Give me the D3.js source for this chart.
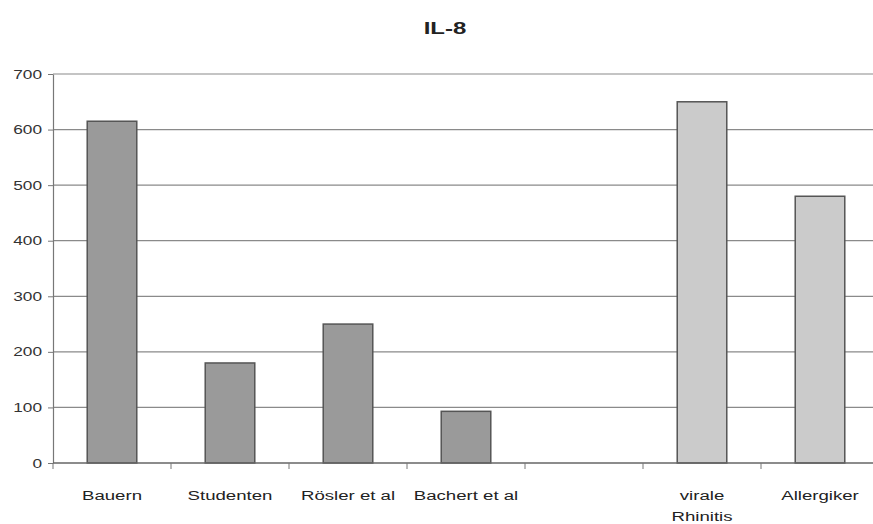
<!DOCTYPE html>
<html><head><meta charset="utf-8">
<script src="https://cdn.jsdelivr.net/npm/d3@7"></script>
<style>body{margin:0;background:#fff}svg{display:block}</style>
</head><body>
<svg id="c" width="873" height="524"></svg>
<script>
const categories = ["Bauern", "Studenten", "Rösler et al", "Bachert et al", "", "virale\nRhinitis", "Allergiker"];
const values = [615, 180, 250, 93, null, 650, 480];
const groups = ["dark", "dark", "dark", "dark", null, "light", "light"];
const yTicks = [0, 100, 200, 300, 400, 500, 600, 700];
const title = "IL-8";

(function() {
const svg = d3.select("#c");
const mLeft = 53, mTop = 74, mBottom = 463, bandW = 118;
const sx = 1.38; // horizontal stretch of the lettering in the reference
const x = d3.scaleBand().domain(d3.range(categories.length)).range([mLeft, mLeft + bandW * categories.length]).paddingInner(0.58).paddingOuter(0.29);
const y = d3.scaleLinear().domain([0, 700]).range([mBottom, mTop]);
const font = "Liberation Sans, Arial, sans-serif";

svg.append("text").attr("transform", `translate(445,34) scale(1.5,1)`).attr("text-anchor", "middle")
  .attr("font-family", font).attr("font-weight", "bold").attr("font-size", 16).attr("fill", "#222").text(title);

// gridlines
svg.append("g").selectAll("line").data(yTicks.filter(d => d > 0)).join("line")
  .attr("x1", mLeft).attr("x2", 873).attr("y1", d => y(d)).attr("y2", d => y(d))
  .attr("stroke", "#8a8a8a").attr("stroke-width", 1.2);

// bars
const fills = {dark: "#9a9a9a", light: "#cbcbcb"};
svg.append("g").selectAll("rect").data(values.map((v, i) => ({v, i})).filter(d => d.v != null)).join("rect")
  .attr("x", d => x(d.i)).attr("width", x.bandwidth())
  .attr("y", d => y(d.v)).attr("height", d => y(0) - y(d.v))
  .attr("fill", d => fills[groups[d.i]]).attr("stroke", "#555").attr("stroke-width", 1.5);

// y axis
const yAxis = d3.axisLeft(y).tickValues(yTicks).tickSize(5).tickPadding(6).tickSizeOuter(0);
const gy = svg.append("g").attr("transform", `translate(${mLeft},0)`).call(yAxis);
gy.select(".domain").attr("stroke", "#777").attr("stroke-width", 1.2);
gy.selectAll(".tick line").attr("stroke", "#777");
gy.selectAll(".tick text").attr("x", null)
  .attr("transform", `translate(-11,0) scale(${sx},1)`)
  .attr("font-family", font).attr("font-size", 12.5).attr("fill", "#333");

// x axis
const boundaries = d3.range(categories.length + 1).map(i => mLeft + i * bandW);
svg.append("line").attr("x1", mLeft).attr("x2", 873).attr("y1", mBottom).attr("y2", mBottom)
  .attr("stroke", "#666").attr("stroke-width", 1.5);
svg.append("g").selectAll("line").data(boundaries).join("line")
  .attr("x1", d => d).attr("x2", d => d).attr("y1", mBottom).attr("y2", mBottom + 6)
  .attr("stroke", "#777");

const xl = svg.append("g").selectAll("text").data(categories.map((c, i) => ({c, i}))).join("text")
  .attr("transform", d => `translate(${x(d.i) + x.bandwidth() / 2},500) scale(${sx},1)`)
  .attr("text-anchor", "middle").attr("font-family", font).attr("font-size", 13.5).attr("fill", "#222");
xl.each(function(d) {
  d.c.split("\n").forEach((line, k) => {
    d3.select(this).append("tspan").attr("x", 0).attr("dy", k ? 21 : 0).text(line);
  });
});
})();
</script>
</body></html>
